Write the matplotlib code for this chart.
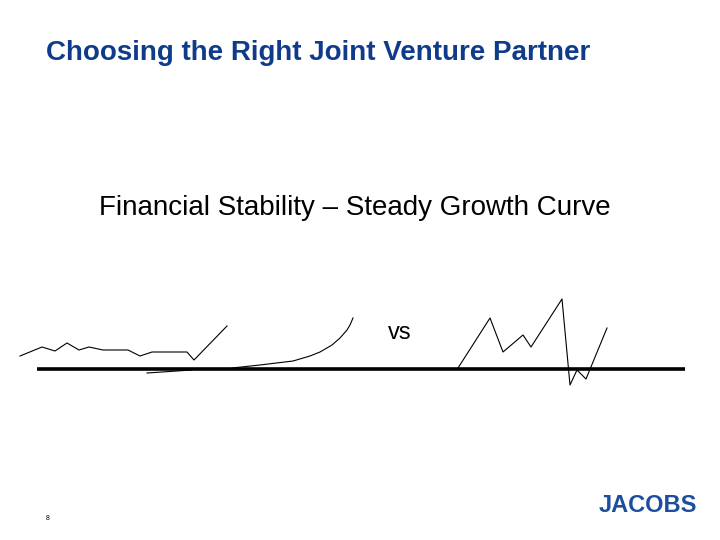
import matplotlib
matplotlib.use('Agg')
import matplotlib.pyplot as plt

plt.rcParams['font.family'] = ['Liberation Sans', 'DejaVu Sans']

NAVY = '#0E3B8A'
LOGO = '#1B4F9E'

# slide drawn in pixel space (720 x 540, y grows downward)
wobbly_x = [20, 42, 55, 67, 79, 89, 103, 128, 140, 152, 187, 194, 227]
wobbly_y = [356, 347, 351, 343, 350, 347, 350, 350, 356, 352, 352, 360, 326]

dip_x = [147, 192]
dip_y = [373, 370]

growth_x = [232, 260, 293, 310, 320, 332, 340, 347, 350, 353]
growth_y = [368, 365, 361, 356, 352, 345, 338, 330, 325, 318]

zigzag_x = [458, 490, 503, 523, 531, 562, 570, 577, 586, 607]
zigzag_y = [368, 318, 352, 335, 347, 299, 385, 370, 379, 328]

base_x = [37, 685]
base_y = [369, 369]

fig = plt.figure(figsize=(7.2, 5.4), dpi=100, facecolor='white')
ax = fig.add_axes([0, 0, 1, 1])
ax.set_xlim(0, 720)
ax.set_ylim(540, 0)
ax.axis('off')

ax.plot(base_x, base_y, color='black', linewidth=2.6, solid_capstyle='butt')
ax.plot(wobbly_x, wobbly_y, color='black', linewidth=0.8)
ax.plot(dip_x, dip_y, color='black', linewidth=0.8)
ax.plot(growth_x, growth_y, color='black', linewidth=0.8)
ax.plot(zigzag_x, zigzag_y, color='black', linewidth=0.8)

ax.text(46, 53, 'Choosing the Right Joint Venture Partner', fontsize=20,
        fontweight='bold', color=NAVY, ha='left', va='center')
ax.text(99, 208, 'Financial Stability \u2013 Steady Growth Curve', fontsize=20,
        color='black', ha='left', va='center')
ax.text(400, 333, 'vs', fontsize=17, color='black', ha='center', va='center')
ax.text(648, 506, 'JACOBS', fontsize=17, fontweight='heavy', color=LOGO,
        ha='center', va='center')
ax.text(48, 518, '8', fontsize=5, color='black', ha='center', va='center')

plt.savefig('out.png', dpi=100, facecolor='white')
plt.close()
